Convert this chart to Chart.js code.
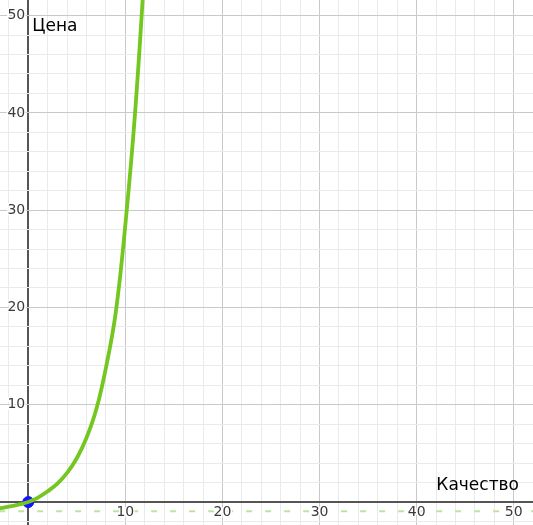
<!DOCTYPE html>
<html>
<head>
<meta charset="utf-8">
<script src="https://cdn.jsdelivr.net/npm/chart.js@4"></script>
<style>
  body { margin: 0; background: #fff; }
  #wrap { width: 533px; height: 525px; }
</style>
</head>
<body>
<div id="wrap"><canvas id="myChart" width="533" height="525"></canvas></div>
<script>
// curve (Качество -> Цена)
const curveX = [-3, -2, -1, 0, 1, 2, 3, 4, 5, 6, 7, 8, 9, 10, 11, 12];
const curveY = [-0.65, -0.48, -0.27, 0, 0.45, 1.1, 1.9, 3.0, 4.5, 6.6, 9.5, 13.8, 19.4, 28.5, 40, 55];
const pointX = [0];
const pointY = [0];
const dashX = [-3, 53];
const dashY = [-0.95, -0.95];
const xTickLabels = [10, 20, 30, 40, 50];
const yTickLabels = [10, 20, 30, 40, 50];
const xTitle = 'Качество';
const yTitle = 'Цена';

const toPts = (xs, ys) => xs.map((x, i) => ({ x: x, y: ys[i] }));

function gridColor(ctx) {
  const v = ctx.tick && ctx.tick.value;
  if (v === 0) return '#555';
  if (Math.abs(v % 2) > 1e-6) return 'rgba(0,0,0,0)';
  if (v % 10 === 0) return '#c9c9c9';
  return '#eaeaea';
}
function gridWidth(ctx) {
  return ctx.tick && ctx.tick.value === 0 ? 2 : 1;
}

// tick labels and axis titles, Desmos style
const labelsPlugin = {
  id: 'axisLabels',
  afterDatasetsDraw(chart) {
    const c = chart.ctx;
    const xs = chart.scales.x, ys = chart.scales.y;
    const x0 = xs.getPixelForValue(0), y0 = ys.getPixelForValue(0);
    c.save();
    c.font = '14px "DejaVu Sans"';
    c.lineWidth = 3;
    c.strokeStyle = '#fff';
    c.fillStyle = '#3a3a3a';
    c.textBaseline = 'middle';
    c.textAlign = 'center';
    xTickLabels.forEach(v => {
      const px = xs.getPixelForValue(v);
      c.strokeText(String(v), px, y0 + 10);
      c.fillText(String(v), px, y0 + 10);
    });
    c.textAlign = 'right';
    yTickLabels.forEach(v => {
      const py = ys.getPixelForValue(v);
      c.strokeText(String(v), x0 - 3, py);
      c.fillText(String(v), x0 - 3, py);
    });
    c.font = '17px "DejaVu Sans"';
    c.fillStyle = '#000';
    c.textAlign = 'left';
    c.fillText(yTitle, x0 + 4, 27);
    c.textAlign = 'right';
    c.fillText(xTitle, 519, 486);
    c.restore();
  }
};

new Chart(document.getElementById('myChart'), {
  type: 'line',
  data: {
    datasets: [
      {
        data: toPts(dashX, dashY),
        borderColor: '#bfe4a2',
        borderWidth: 2,
        borderDash: [6, 13],
        pointRadius: 0
      },
      {
        data: toPts(curveX, curveY),
        borderColor: '#74c620',
        borderWidth: 3.8,
        tension: 0.4,
        pointRadius: 0
      },
      {
        data: toPts(pointX, pointY),
        showLine: false,
        pointRadius: 5.5,
        pointBackgroundColor: '#1414ff',
        pointBorderColor: '#1414ff'
      }
    ]
  },
  plugins: [labelsPlugin],
  options: {
    responsive: false,
    devicePixelRatio: 1,
    animation: false,
    layout: { padding: 0, autoPadding: false },
    plugins: { legend: { display: false }, tooltip: { enabled: false } },
    scales: {
      x: {
        type: 'linear',
        min: -2.91,
        max: 51.98,
        ticks: { display: false, stepSize: 2, includeBounds: false, autoSkip: false },
        grid: { color: gridColor, lineWidth: gridWidth, drawTicks: false },
        border: { display: false }
      },
      y: {
        type: 'linear',
        min: -2.36,
        max: 51.6,
        ticks: { display: false, stepSize: 2, includeBounds: false, autoSkip: false },
        grid: { color: gridColor, lineWidth: gridWidth, drawTicks: false },
        border: { display: false }
      }
    }
  }
});
</script>
</body>
</html>
